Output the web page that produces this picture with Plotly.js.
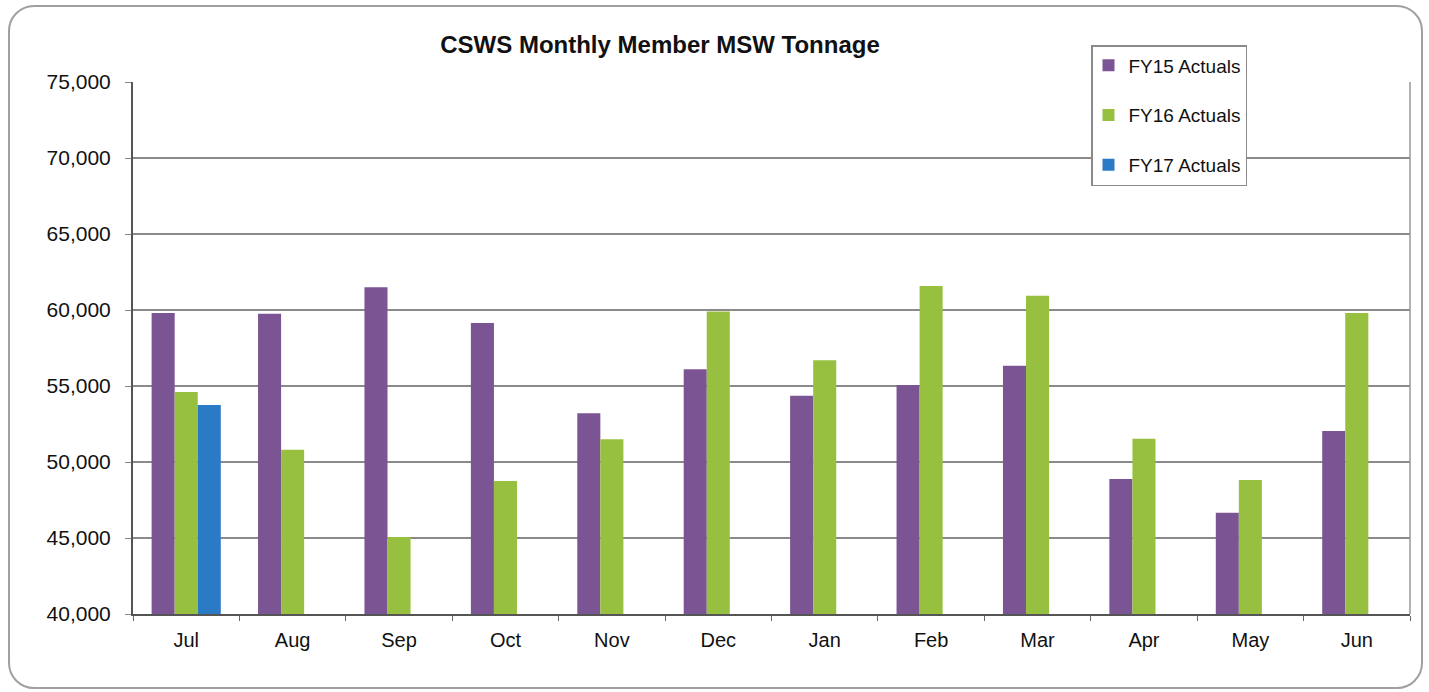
<!DOCTYPE html>
<html>
<head>
<meta charset="utf-8">
<script src="https://cdn.plot.ly/plotly-3.0.1.min.js"></script>
<style>
  html, body { margin: 0; padding: 0; background: #fff; }
  #frame { position: absolute; left: 8px; top: 5px; width: 1411px; height: 680px; border: 2px solid #a0a0a0; border-radius: 26px; pointer-events: none; z-index: 5; }
  #chart { position: absolute; left: 0; top: 0; width: 1429px; height: 692px; }
</style>
</head>
<body>
<div id="chart"></div>
<div id="frame"></div>
<script>
const months = ["Jul","Aug","Sep","Oct","Nov","Dec","Jan","Feb","Mar","Apr","May","Jun"];
const fy15 = [59800, 59750, 61500, 59150, 53200, 56100, 54360, 55070, 56330, 48880, 46660, 52040];
const fy16 = [54600, 50800, 45070, 48750, 51500, 59900, 56700, 61580, 60940, 51530, 48820, 59800];
const fy17 = [53750, null, null, null, null, null, null, null, null, null, null, null];
const seriesNames = ["FY15 Actuals", "FY16 Actuals", "FY17 Actuals"];
const seriesColors = ["#7b5493", "#98c040", "#2a7ac6"];
const yTicks = [40000, 45000, 50000, 55000, 60000, 65000, 70000, 75000];

const font = "Arial, 'Liberation Sans', sans-serif";
const data = [fy15, fy16, fy17].map((vals, i) => ({
  type: "bar",
  x: months,
  y: vals,
  name: seriesNames[i],
  legendgroup: "g" + i,
  marker: { color: seriesColors[i], line: { width: 0 } }
}));

const plotL = 133, plotR = 1410, plotT = 82, plotB = 614;
const pw = plotR - plotL, ph = plotB - plotT;

const layout = {
  width: 1429, height: 692,
  margin: { l: plotL, r: 1429 - plotR, t: plotT, b: 692 - plotB, autoexpand: false },
  paper_bgcolor: "rgba(0,0,0,0)",
  plot_bgcolor: "#ffffff",
  barmode: "group",
  bargap: 0.35,
  bargroupgap: 0,
  font: { family: font, color: "#111" },
  title: {
    text: "<b>CSWS Monthly Member MSW Tonnage</b>",
    x: 660 / 1429, xref: "container", xanchor: "center",
    y: 1 - 45 / 692, yref: "container", yanchor: "middle",
    font: { family: font, size: 24, color: "#111" }
  },
  xaxis: {
    type: "category",
    tickson: "boundaries",
    ticks: "outside", ticklen: 5, tickcolor: "#666",
    ticklabelstandoff: 7,
    showline: true, linecolor: "#555", linewidth: 2,
    showgrid: false,
    tickfont: { family: font, size: 20, color: "#111" }
  },
  yaxis: {
    range: [40000, 75000],
    tickvals: yTicks,
    tickformat: ",d",
    ticks: "outside", ticklen: 6, tickcolor: "#888",
    ticklabelstandoff: 10,
    showline: true, linecolor: "#555", linewidth: 2,
    showgrid: true, gridcolor: "#8a8a8a", gridwidth: 1.3,
    zeroline: false,
    tickfont: { family: font, size: 21, color: "#111" }
  },
  shapes: [
    { type: "line", xref: "paper", yref: "paper", x0: 1, x1: 1, y0: 0, y1: 1, line: { color: "#8a8a8a", width: 1.3 } }
  ],
  showlegend: true,
  legend: {
    x: (1091 - plotL) / pw, xref: "paper", xanchor: "left",
    y: 1 + (plotT - 45) / ph, yref: "paper", yanchor: "top",
    bgcolor: "#ffffff",
    bordercolor: "#8a8a8a", borderwidth: 1.5,
    font: { family: font, size: 19, color: "#111" },
    traceorder: "grouped",
    tracegroupgap: 22,
    itemwidth: 30,
    indentation: -4
  }
};

Plotly.newPlot("chart", data, layout, { displayModeBar: false, staticPlot: true });
</script>
</body>
</html>
